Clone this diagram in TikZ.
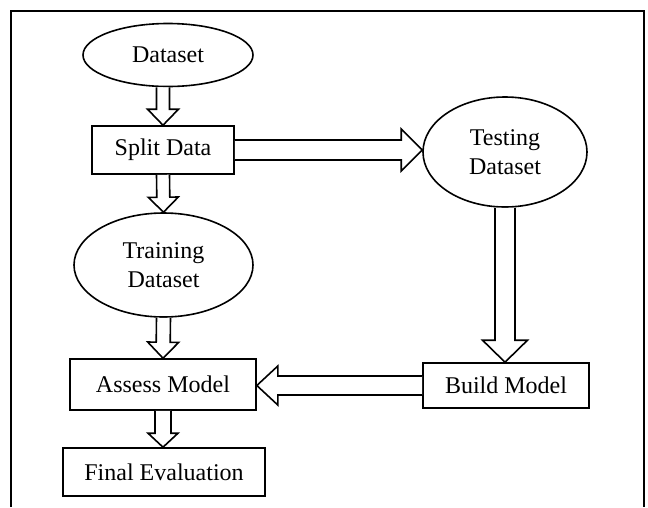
\documentclass[tikz,border=0pt]{standalone}
\usepackage{fontspec}
\setmainfont{Liberation Serif}
\usetikzlibrary{shapes.geometric,calc}

\tikzset{
  every node/.style={font=\fontsize{24}{29}\selectfont, align=center, inner sep=0pt},
  outline/.style={draw, line width=1.6pt},
  procbox/.style={outline, rectangle},
  dataoval/.style={outline, ellipse},
  blockarrow/.style={draw, fill=white, line width=1.6pt, line join=miter}
}

% block arrow from #1 to #2: shaft half-width #3, head half-width #4, head length #5
\newcommand{\fatarrow}[5]{%
  \draw[blockarrow]
    ($(#1)!#3!90:(#2)$)
    -- ($($(#2)!#5!(#1)$)!#3!-90:(#1)$)
    -- ($($(#2)!#5!(#1)$)!#4!-90:(#1)$)
    -- (#2)
    -- ($($(#2)!#5!(#1)$)!#4!90:(#1)$)
    -- ($($(#2)!#5!(#1)$)!#3!90:(#1)$)
    -- ($(#1)!#3!-90:(#2)$);
}

\begin{document}
\begin{tikzpicture}[x=1pt, y=-1pt]
  \useasboundingbox (0,0) rectangle (648,507);

  % outer frame, open at the bottom
  \draw[line width=1.6pt] (11,507) -- (11,11) -- (644,11) -- (644,507);

  % nodes
  \node[dataoval, minimum width=170pt, minimum height=63pt] (data) at (168,55) {Dataset};
  \node[procbox, minimum width=142pt, minimum height=48pt] (split) at (163,150) {Split Data};
  \node[dataoval, minimum width=164pt, minimum height=110pt] (test) at (505,152) {Testing\\Dataset};
  \node[dataoval, minimum width=179pt, minimum height=104pt] (train) at (163.5,265) {Training\\Dataset};
  \node[procbox, minimum width=186pt, minimum height=51pt] (assess) at (163,384.5) {Assess Model};
  \node[procbox, minimum width=166pt, minimum height=45pt] (build) at (506,385.5) {Build Model};
  \node[procbox, minimum width=202pt, minimum height=48pt] (final) at (164,472) {Final Evaluation};

  % connector end points
  \coordinate (d1) at (split.north |- data.south);
  \coordinate (t1) at (test.west |- split.east);
  \coordinate (tr2) at (assess.north);
  \coordinate (b2) at (test.south |- build.north);
  \coordinate (a2) at (assess.east |- build.west);
  \coordinate (f2) at (assess.south |- final.north);

  % block arrows
  \fatarrow{d1}{split.north}{6.5pt}{15.5pt}{16pt}
  \fatarrow{split.east}{t1}{10pt}{21pt}{21pt}
  \fatarrow{split.south}{train.north}{6.5pt}{15pt}{15pt}
  \fatarrow{train.south}{tr2}{7pt}{15.5pt}{16pt}
  \fatarrow{test.south}{b2}{10pt}{22.5pt}{22pt}
  \fatarrow{build.west}{a2}{9.5pt}{19.5pt}{21pt}
  \fatarrow{assess.south}{f2}{8pt}{15pt}{14pt}
\end{tikzpicture}
\end{document}
